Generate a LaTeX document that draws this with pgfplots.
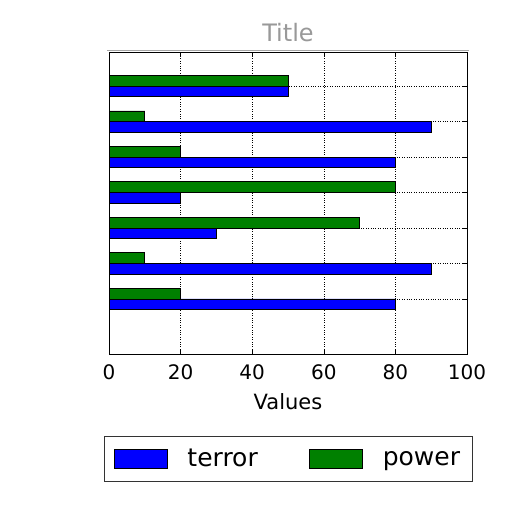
\documentclass[border=0pt]{standalone}
\usepackage{fontspec}
\setmainfont{DejaVu Sans}
\usepackage{pgfplots}
\pgfplotsset{compat=1.18}

\definecolor{mplblue}{RGB}{0,0,255}
\definecolor{mplgreen}{RGB}{0,128,0}

\begin{document}
\begin{tikzpicture}[x=1pt,y=1pt]
\fill[white] (0,0) rectangle (512,512);
\draw[black!35, line width=1.5pt] (107,461.5) -- (469,461.5);
\begin{axis}[
  at={(109pt,158pt)}, anchor=south west,
  scale only axis, width=358pt, height=302pt,
  xbar, bar width=0.3,
  xmin=0, xmax=100, ymin=-1.55, ymax=6.96,
  xtick={0,20,...,100}, ytick={0,...,6}, yticklabels={},
  tick align=inside, major tick length=4pt,
  xmajorgrids, ymajorgrids,
  grid style={black, dotted, line width=0.6pt},
  axis line style={black, line width=1pt},
  tick style={black, line width=0.6pt},
  /pgf/number format/assume math mode=true,
  tick label style={font=\fontsize{20}{22}\selectfont},
  xticklabel style={yshift=-7pt},
  xlabel={Values},
  xlabel style={font=\fontsize{21}{23}\selectfont, yshift=-7pt},
  title={Title},
  title style={font=\fontsize{24}{26}\selectfont, text=black!40, yshift=1pt},
  legend columns=2,
  legend style={at={(-0.014,-0.271)}, anchor=north west,
    draw=black!80, line width=1pt, inner xsep=3pt, inner ysep=8.5pt,
    font=\fontsize{25}{27}\selectfont,
    nodes={inner xsep=0pt},
    /tikz/every even column/.append style={column sep=45pt}},
  legend image code/.code={%
    \path[draw=none, fill=none] (-7pt,-14pt) rectangle (73pt,14pt);
    \draw[#1, line width=0.8pt] (0pt,-9.5pt) rectangle (53pt,9.5pt);},
  legend cell align=left,
]
\addplot[fill=mplblue, draw=black, line width=0.8pt, bar shift=-0.15]
  coordinates {(80,0) (90,1) (30,2) (20,3) (80,4) (90,5) (50,6)};
\addplot[fill=mplgreen, draw=black, line width=0.8pt, bar shift=0.15]
  coordinates {(20,0) (10,1) (70,2) (80,3) (20,4) (10,5) (50,6)};
\legend{terror, power\rule{9pt}{0pt}}
\end{axis}
\end{tikzpicture}
\end{document}
